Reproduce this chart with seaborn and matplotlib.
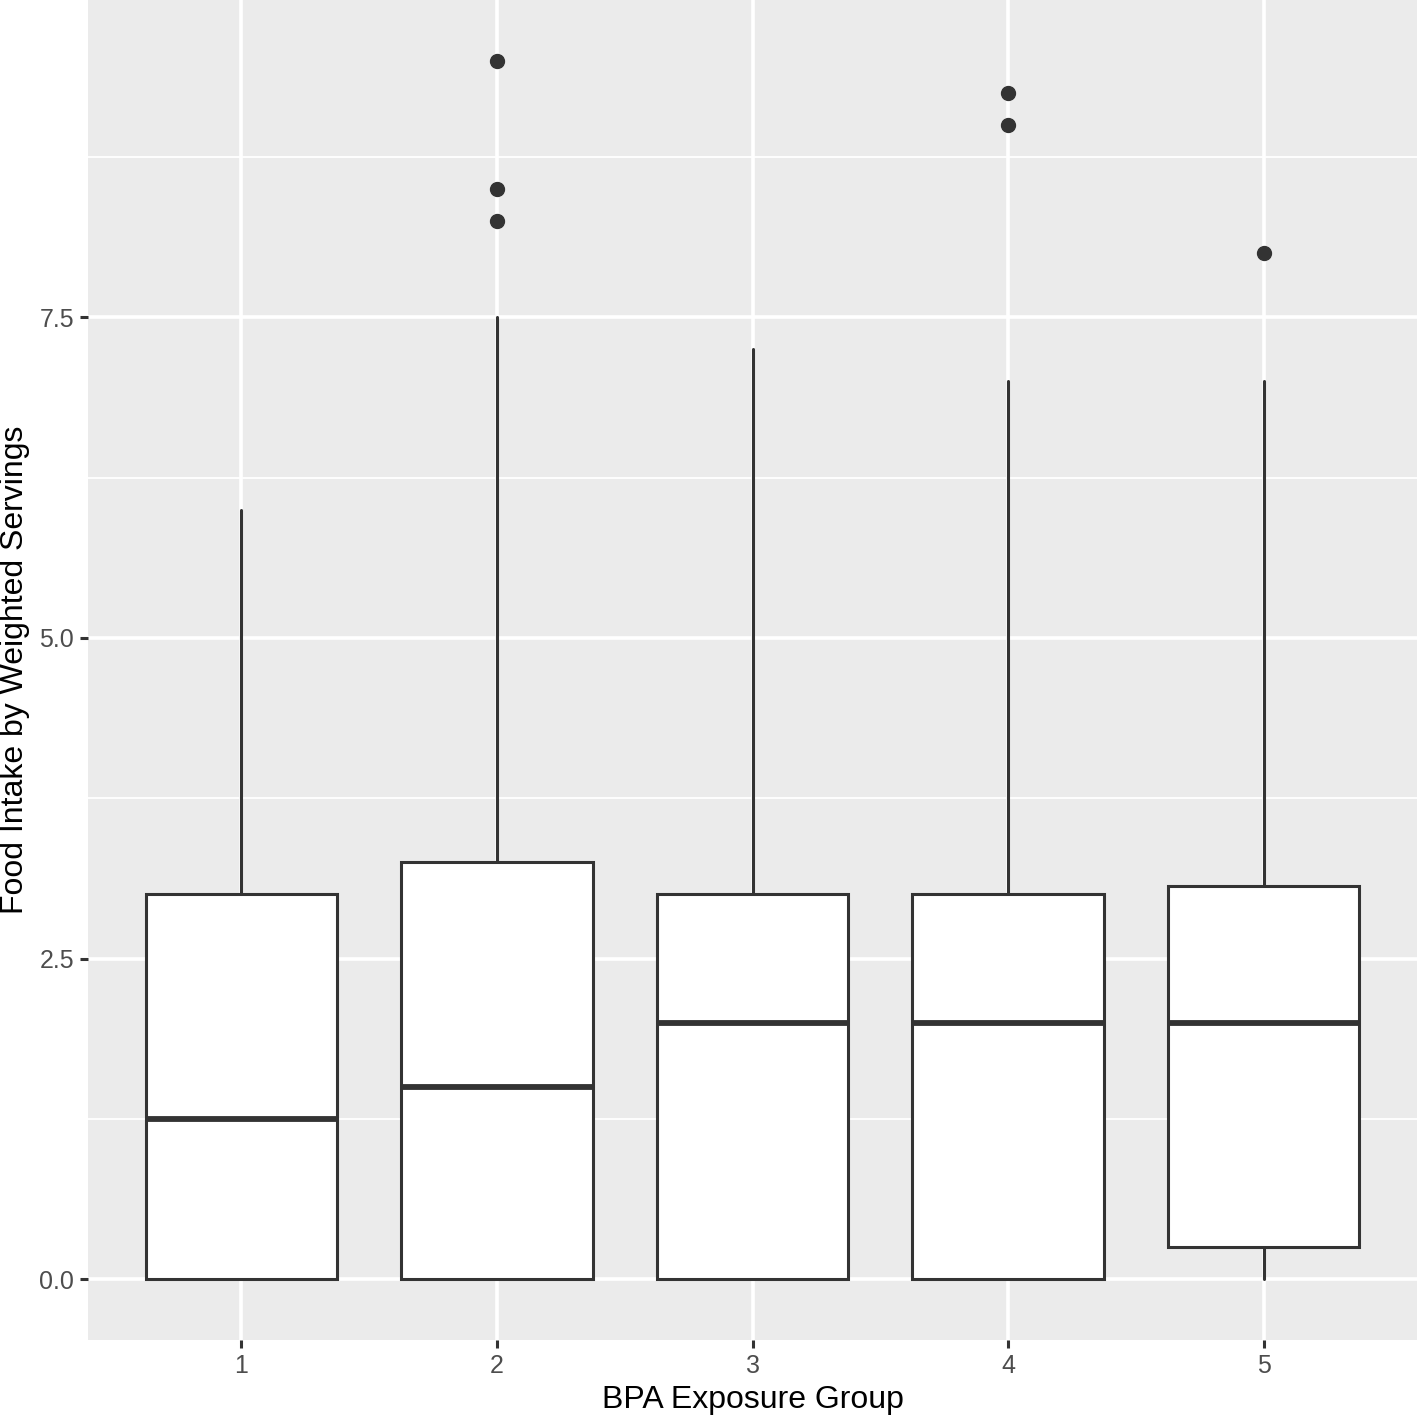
import numpy as np
import seaborn as sns
import matplotlib.pyplot as plt

# summary statistics
groups = ["1", "2", "3", "4", "5"]
q1 = [0.0, 0.0, 0.0, 0.0, 0.25]
median = [1.25, 1.5, 2.0, 2.0, 2.0]
q3 = [3.0, 3.25, 3.0, 3.0, 3.0625]
whisker_low = [0.0, 0.0, 0.0, 0.0, 0.0]
whisker_high = [6.0, 7.5, 7.25, 7.0, 7.0]
outliers = [[], [8.25, 8.5, 9.5], [], [9.0, 9.25], [8.0]]

sns.set_theme(style="darkgrid", rc={
    "axes.facecolor": "#EBEBEB",
    "grid.color": "white",
    "axes.edgecolor": "#EBEBEB",
})
plt.rcParams["font.family"] = ["Liberation Sans", "DejaVu Sans"]

fig = plt.figure(figsize=(14.17, 14.16), dpi=100)
ax = fig.add_axes([88 / 1417, 76 / 1416, 1329 / 1417, 1340 / 1416])

stats = []
for i, g in enumerate(groups):
    stats.append({"label": g, "q1": q1[i], "med": median[i], "q3": q3[i],
                  "whislo": whisker_low[i], "whishi": whisker_high[i],
                  "fliers": outliers[i]})

dark = "#333333"
ax.bxp(stats, positions=range(1, 6), widths=0.75, patch_artist=True,
       showcaps=False,
       boxprops=dict(facecolor="white", edgecolor=dark, linewidth=2.2),
       medianprops=dict(color=dark, linewidth=4.2, solid_capstyle="butt"),
       whiskerprops=dict(color=dark, linewidth=2.2),
       flierprops=dict(marker="o", markerfacecolor=dark, markeredgecolor=dark,
                       markersize=10))

ax.set_xlim(0.4, 5.6)
ax.set_ylim(-0.475, 9.975)
ax.set_yticks([0, 2.5, 5.0, 7.5])
ax.set_yticklabels(["0.0", "2.5", "5.0", "7.5"])
ax.set_yticks([1.25, 3.75, 6.25, 8.75], minor=True)
ax.set_xticks(range(1, 6))
ax.set_xticklabels(groups)
ax.grid(which="major", color="white", linewidth=2.6)
ax.grid(which="minor", axis="y", color="white", linewidth=1.3)
ax.set_axisbelow(True)
for s in ax.spines.values():
    s.set_visible(False)

ax.tick_params(axis="both", which="major", length=6, width=2.2, color=dark,
               labelsize=18, labelcolor="#4D4D4D", pad=4, bottom=True, left=True)
ax.tick_params(axis="both", which="minor", length=0)

ax.set_xlabel("BPA Exposure Group", fontsize=23, color="black", labelpad=5)
ax.set_ylabel("Food Intake by Weighted Servings", fontsize=23, color="black", labelpad=7)

fig.savefig("out.png", dpi=100)
